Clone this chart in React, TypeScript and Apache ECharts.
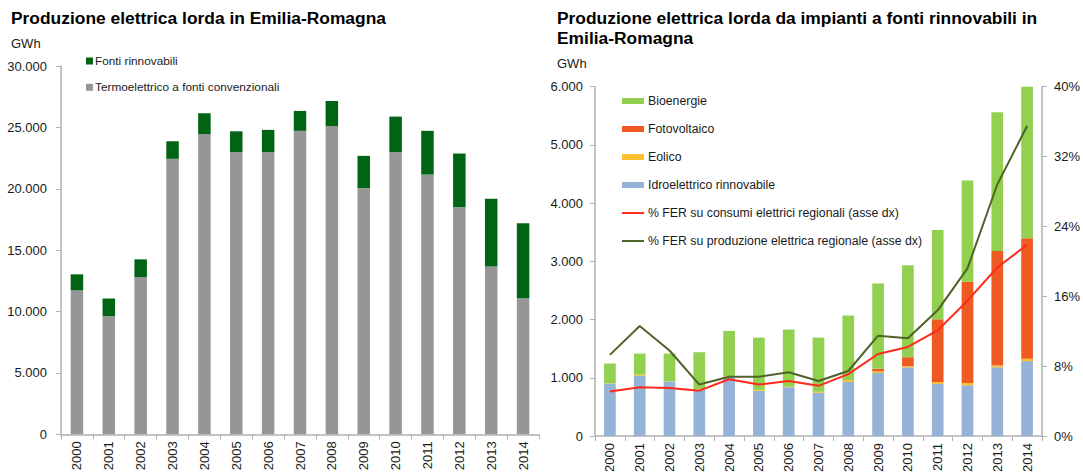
import React, { useEffect, useRef } from "react";
import * as echarts from "echarts";

const years = ["2000","2001","2002","2003","2004","2005","2006","2007","2008","2009","2010","2011","2012","2013","2014"];

// Left chart (GWh)
const termoelettrico = [11730, 9620, 12810, 22440, 24440, 22980, 22980, 24720, 25090, 20050, 22980, 21160, 18500, 13660, 11080];
const fontiRinnovabili = [1300, 1440, 1440, 1430, 1710, 1700, 1820, 1620, 2060, 2630, 2900, 3560, 4370, 5530, 6120];

// Right chart (GWh)
const idroelettrico = [903, 1034, 937, 800, 1017, 777, 840, 743, 930, 1083, 1180, 895, 872, 1180, 1288];
const eolico = [5, 20, 5, 5, 5, 17, 10, 17, 30, 28, 20, 30, 40, 30, 40];
const fotovoltaico = [0, 0, 0, 0, 0, 0, 0, 0, 5, 46, 154, 1080, 1740, 1970, 2070];
const bioenergie = [338, 363, 475, 635, 784, 897, 979, 931, 1105, 1463, 1580, 1535, 1738, 2380, 2632];

// Right chart (%)
const ferConsumi = [5.1, 5.6, 5.5, 5.2, 6.5, 5.9, 6.3, 5.75, 7.1, 9.4, 10.2, 12.1, 15.5, 19.3, 21.9];
const ferProduzione = [9.3, 12.6, 9.8, 5.9, 6.8, 6.8, 7.3, 6.3, 7.45, 11.5, 11.2, 14.4, 19.2, 28.8, 35.5];

const FONT = "'Liberation Sans', Arial, sans-serif";
const AXIS_COLOR = "#b0b0b0";
const TEXT_COLOR = "#1a1a1a";
const LINE_ICON = "path://M0,0h22v2h-22z";

const fmt = (v: number) => String(v).replace(/\B(?=(\d{3})+(?!\d))/g, ".");

export default function App() {
  const ref = useRef<HTMLDivElement>(null);
  useEffect(() => {
    if (!ref.current) return;
    const chart = echarts.init(ref.current, null, { renderer: "svg" });
    const axisLine = { show: true, lineStyle: { color: AXIS_COLOR, width: 1.5 } };
    const axisTick = { show: true, length: 5, lineStyle: { color: AXIS_COLOR, width: 1 } };
    const catAxis = (gridIndex: number) => ({
      type: "category",
      gridIndex,
      data: years,
      boundaryGap: true,
      axisLine,
      axisTick: { ...axisTick, alignWithLabel: false, inside: false },
      axisLabel: { rotate: 90, fontSize: 13, color: TEXT_COLOR, fontFamily: FONT, margin: 7 },
    });
    const option: any = {
      animation: false,
      backgroundColor: "#ffffff",
      textStyle: { fontFamily: FONT },
      title: [
        {
          text: "Produzione elettrica lorda in Emilia-Romagna",
          left: 11, top: 9, padding: 0,
          textStyle: { fontSize: 17.4, fontWeight: "bold", color: "#000", fontFamily: FONT },
        },
        {
          text: "Produzione elettrica lorda da impianti a fonti rinnovabili in\nEmilia-Romagna",
          left: 557, top: 8, padding: 0,
          textStyle: { fontSize: 17.4, fontWeight: "bold", color: "#000", fontFamily: FONT, lineHeight: 20 },
        },
      ],
      graphic: [
        { type: "text", left: 11, top: 37, style: { text: "GWh", fontSize: 13, fill: TEXT_COLOR, fontFamily: FONT } },
        { type: "text", left: 557, top: 57, style: { text: "GWh", fontSize: 13, fill: TEXT_COLOR, fontFamily: FONT } },
      ],
      legend: [
        {
          orient: "vertical",
          left: 86, top: 55, padding: 0,
          itemWidth: 7, itemHeight: 7, itemGap: 14.3,
          icon: "rect",
          textStyle: { fontSize: 11.8, color: TEXT_COLOR, fontFamily: FONT, padding: [0, 0, 0, -3] },
          data: ["Fonti rinnovabili", "Termoelettrico a fonti convenzionali"],
        },
        {
          orient: "vertical",
          left: 622, top: 95, padding: 0,
          itemWidth: 22, itemHeight: 6, itemGap: 16,
          textStyle: { fontSize: 12.3, color: TEXT_COLOR, fontFamily: FONT, padding: [0, 0, 0, -1] },
          data: [
            { name: "Bioenergie", icon: "rect" },
            { name: "Fotovoltaico", icon: "rect" },
            { name: "Eolico", icon: "rect" },
            { name: "Idroelettrico rinnovabile", icon: "rect" },
            { name: "% FER su consumi elettrici regionali (asse dx)", icon: LINE_ICON },
            { name: "% FER su produzione elettrica regionale (asse dx)", icon: LINE_ICON },
          ],
        },
      ],
      grid: [
        { left: 61, top: 66, width: 478, height: 368.3 },
        { left: 595, top: 86.7, width: 450, height: 351 },
      ],
      xAxis: [catAxis(0), catAxis(1)],
      yAxis: [
        {
          type: "value", gridIndex: 0, min: 0, max: 30000, interval: 5000,
          axisLine, axisTick,
          splitLine: { show: false },
          axisLabel: { fontSize: 13, color: TEXT_COLOR, fontFamily: FONT, margin: 14, formatter: (v: number) => fmt(v) },
        },
        {
          type: "value", gridIndex: 1, min: 0, max: 6000, interval: 1000,
          axisLine, axisTick,
          splitLine: { show: false },
          axisLabel: { fontSize: 13, color: TEXT_COLOR, fontFamily: FONT, margin: 12, formatter: (v: number) => fmt(v) },
        },
        {
          type: "value", gridIndex: 1, min: 0, max: 40, interval: 8, position: "right",
          axisLine, axisTick,
          splitLine: { show: false },
          axisLabel: { fontSize: 13, color: TEXT_COLOR, fontFamily: FONT, margin: 12, formatter: (v: number) => v + "%" },
        },
      ],
      series: [
        {
          name: "Termoelettrico a fonti convenzionali", type: "bar", stack: "left",
          xAxisIndex: 0, yAxisIndex: 0, data: termoelettrico, barWidth: 12.5,
          itemStyle: { color: "#969696" },
        },
        {
          name: "Fonti rinnovabili", type: "bar", stack: "left",
          xAxisIndex: 0, yAxisIndex: 0, data: fontiRinnovabili, barWidth: 12.5,
          itemStyle: { color: "#006414" },
        },
        {
          name: "Idroelettrico rinnovabile", type: "bar", stack: "right",
          xAxisIndex: 1, yAxisIndex: 1, data: idroelettrico, barWidth: 11.7,
          itemStyle: { color: "#95b3d7" },
        },
        {
          name: "Eolico", type: "bar", stack: "right",
          xAxisIndex: 1, yAxisIndex: 1, data: eolico, barWidth: 11.7,
          itemStyle: { color: "#f8c12c" },
        },
        {
          name: "Fotovoltaico", type: "bar", stack: "right",
          xAxisIndex: 1, yAxisIndex: 1, data: fotovoltaico, barWidth: 11.7,
          itemStyle: { color: "#ee5a22" },
        },
        {
          name: "Bioenergie", type: "bar", stack: "right",
          xAxisIndex: 1, yAxisIndex: 1, data: bioenergie, barWidth: 11.7,
          itemStyle: { color: "#92d050" },
        },
        {
          name: "% FER su consumi elettrici regionali (asse dx)", type: "line",
          xAxisIndex: 1, yAxisIndex: 2, data: ferConsumi, symbol: "none",
          lineStyle: { color: "#ff2a1a", width: 2 }, itemStyle: { color: "#ff2a1a" },
        },
        {
          name: "% FER su produzione elettrica regionale (asse dx)", type: "line",
          xAxisIndex: 1, yAxisIndex: 2, data: ferProduzione, symbol: "none",
          lineStyle: { color: "#4f6228", width: 2 }, itemStyle: { color: "#4f6228" },
        },
      ],
    };
    chart.setOption(option);
    return () => chart.dispose();
  }, []);
  return (
    <div
      ref={ref}
      style={{ position: "fixed", left: 0, top: 0, width: 1083, height: 475, background: "#fff" }}
    />
  );
}
